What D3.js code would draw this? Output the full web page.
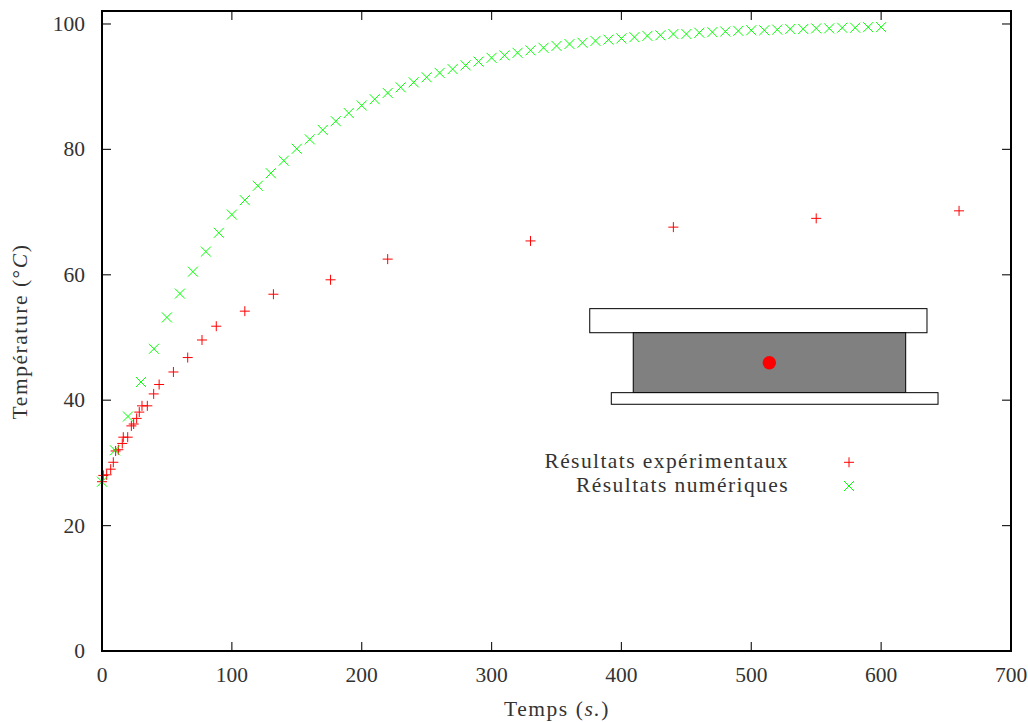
<!DOCTYPE html>
<html><head><meta charset="utf-8">
<script src="https://cdn.jsdelivr.net/npm/d3@7"></script>
<style>
html,body{margin:0;padding:0;background:#fff;}
text{font-family:"Liberation Serif",serif;font-size:21.5px;fill:#333;}
.wide{letter-spacing:1.55px;}
.leg{letter-spacing:1.42px;}
</style></head><body>
<svg id="c" width="1028" height="722"></svg>
<script>
const expTime=[0,1,3.6,6.7,8.7,10.5,12.6,15.6,16.4,19.8,22.6,24.4,26.7,28.7,30.8,34.9,39.8,44,55,66,77,88,110,132,176,220,330,440,550,660];
const expTemp=[27,28,28.1,29,30.1,31.9,32.1,33.1,34.1,34.1,35.9,36.2,37.1,38.1,39.1,39.1,41,42.5,44.5,46.8,49.6,51.8,54.2,56.9,59.2,62.5,65.4,67.6,69,70.2];
const numTime=[0,10,20,30,40,50,60,70,80,90,100,110,120,130,140,150,160,170,180,190,200,210,220,230,240,250,260,270,280,290,300,310,320,330,340,350,360,370,380,390,400,410,420,430,440,450,460,470,480,490,500,510,520,530,540,550,560,570,580,590,600];
const numTemp=[27,32,37.4,42.9,48.2,53.2,57,60.5,63.7,66.7,69.6,71.9,74.2,76.2,78.2,80.1,81.6,83.1,84.5,85.8,87,88,89,89.9,90.7,91.5,92.2,92.8,93.4,94,94.6,95,95.4,95.8,96.2,96.5,96.8,97,97.3,97.5,97.7,97.9,98.1,98.2,98.4,98.4,98.6,98.7,98.8,98.9,99,99,99.1,99.2,99.2,99.3,99.3,99.4,99.4,99.5,99.5];
const xTicks=[0,100,200,300,400,500,600,700];
const yTicks=[0,20,40,60,80,100];
const legendLabels=["Résultats expérimentaux","Résultats numériques"];

const svg=d3.select("#c");
const L=102,R=1011,T=11,B=651;
const x=d3.scaleLinear().domain([0,700]).range([L,R]);
const y=d3.scaleLinear().domain([0,102.07]).range([B,T]);

const ink="#000";
function ticks(g,orient,vals,scale,pos,dir){
  vals.forEach(v=>{
    const p=scale(v);
    if(orient==="x") g.append("line").attr("x1",p).attr("x2",p).attr("y1",pos).attr("y2",pos+dir*9);
    else g.append("line").attr("y1",p).attr("y2",p).attr("x1",pos).attr("x2",pos+dir*9);
  });
}
const tg=svg.append("g").attr("stroke","#222").attr("stroke-width",1.2);
ticks(tg,"x",xTicks.slice(1,-1),x,B,-1);
ticks(tg,"x",xTicks.slice(1,-1),x,T,1);
ticks(tg,"y",yTicks.slice(1),y,L,1);
ticks(tg,"y",yTicks.slice(1),y,R,-1);

const inset=svg.append("g").attr("stroke","#000").attr("stroke-width",1);
inset.append("rect").attr("x",x(375.6)).attr("y",y(54.6)).attr("width",x(635.3)-x(375.6)).attr("height",y(50.76)-y(54.6)).attr("fill","#fff");
inset.append("rect").attr("x",x(409.1)).attr("y",y(50.76)).attr("width",x(618.9)-x(409.1)).attr("height",y(41.2)-y(50.76)).attr("fill","#808080");
inset.append("rect").attr("x",x(392.2)).attr("y",y(41.2)).attr("width",x(643.8)-x(392.2)).attr("height",y(39.35)-y(41.2)).attr("fill","#fff");
svg.append("circle").attr("cx",x(513.9)).attr("cy",y(45.98)).attr("r",6.7).attr("fill","#f00");

function plus(sel,cx,cy,s){sel.append("path").attr("d",`M${cx-s},${cy}H${cx+s}M${cx},${cy-s}V${cy+s}`).attr("fill","none").attr("stroke","#f00").attr("stroke-width",1);}
function cross(sel,cx,cy,s){sel.append("path").attr("d",`M${cx-s},${cy-s}L${cx+s},${cy+s}M${cx-s},${cy+s}L${cx+s},${cy-s}`).attr("fill","none").attr("stroke","#0f0").attr("stroke-width",1);}
const pts=svg.append("g");
expTime.forEach((t,i)=>plus(pts,x(t),y(expTemp[i]),5));
numTime.forEach((t,i)=>cross(pts,x(t),y(numTemp[i]),5));

svg.append("rect").attr("x",L).attr("y",T).attr("width",R-L).attr("height",B-T).attr("fill","none").attr("stroke",ink).attr("stroke-width",2);

xTicks.forEach(v=>svg.append("text").attr("x",x(v)).attr("y",B+31).attr("text-anchor","middle").text(v));
yTicks.forEach(v=>svg.append("text").attr("x",L-17).attr("y",y(v)+7).attr("text-anchor","end").text(v));

const xt=svg.append("text").attr("class","wide").attr("x",557).attr("y",716).attr("text-anchor","middle");
xt.append("tspan").text("Temps (");xt.append("tspan").attr("font-style","italic").text("s.");xt.append("tspan").text(")");
const yt=svg.append("text").attr("class","wide").attr("transform","translate(27,331.5) rotate(-90)").attr("text-anchor","middle");
yt.append("tspan").text("Température (");yt.append("tspan").text("°");yt.append("tspan").attr("font-style","italic").text("C");yt.append("tspan").text(")");

svg.append("text").attr("class","leg").attr("x",789).attr("y",468).attr("text-anchor","end").text(legendLabels[0]);
svg.append("text").attr("class","leg").attr("x",789).attr("y",492).attr("text-anchor","end").text(legendLabels[1]);
plus(svg,849,462.3,5);cross(svg,849,486,5);
</script></body></html>
